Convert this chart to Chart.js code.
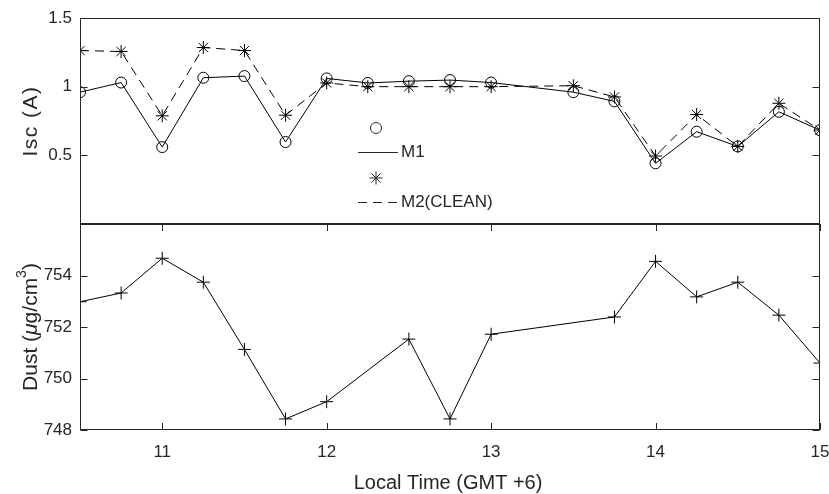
<!DOCTYPE html>
<html>
<head>
<meta charset="utf-8">
<script src="https://cdn.jsdelivr.net/npm/chart.js@4/dist/chart.umd.min.js"></script>
<style>
  html, body { margin: 0; padding: 0; background: #fff; }
</style>
</head>
<body>
<canvas id="myChart" width="829" height="494"></canvas>
<script>
// values
const times = [10.5, 10.75, 11, 11.25, 11.5, 11.75, 12, 12.25, 12.5, 12.75, 13, 13.5, 13.75, 14, 14.25, 14.5, 14.75, 15];
const m1 = [0.96, 1.03, 0.56, 1.065, 1.077, 0.597, 1.06, 1.027, 1.04, 1.048, 1.03, 0.96, 0.893, 0.442, 0.672, 0.565, 0.817, 0.683];
const m2 = [1.263, 1.256, 0.788, 1.285, 1.263, 0.792, 1.027, 1.0, 1.0, 1.0, 1.0, 1.007, 0.925, 0.495, 0.797, 0.565, 0.879, 0.683];
const dustTimes = [10.5, 10.75, 11, 11.25, 11.5, 11.75, 12, 12.5, 12.75, 13, 13.75, 14, 14.25, 14.5, 14.75, 15];
const dust = [752.98, 753.32, 754.67, 753.74, 751.13, 748.43, 749.1, 751.53, 748.43, 751.72, 752.39, 754.55, 753.17, 753.74, 752.46, 750.6];
const xTicks = [11, 12, 13, 14, 15];
const iscTicks = [0.5, 1, 1.5];
const dustTicks = [748, 750, 752, 754];

const FONT = "'Liberation Sans', Arial, sans-serif";
const INK = '#262626';

const ctx = document.getElementById('myChart');

const pts = (xs, ys) => xs.map((x, i) => ({ x: x, y: ys[i] }));
const setTicks = (list) => (scale) => { scale.ticks = list.map(v => ({ value: v })); };
const tickOpts = (pad) => ({ font: { family: FONT, size: 17 }, color: INK, padding: pad, callback: (v) => String(v) });
const noGrid = { display: false, drawTicks: false };
const noPad = (s) => { s.paddingLeft = 0; s.paddingRight = 0; s.paddingTop = 0; s.paddingBottom = 0; };

const drawMarker = (c, style, x, y, r) => {
    c.beginPath();
    if (style === 'circle') {
        c.arc(x, y, r, 0, Math.PI * 2);
    } else {
        const angles = style === 'star' ? [0, 45, 90, 135] : [0, 90];
        angles.forEach(a => {
            const dx = Math.cos(a * Math.PI / 180) * r, dy = Math.sin(a * Math.PI / 180) * r;
            c.moveTo(x - dx, y - dy);
            c.lineTo(x + dx, y + dy);
        });
    }
    c.stroke();
};

// box, inward ticks, axis titles and the legend
const framePlugin = {
    id: 'frame',
    afterDraw(chart) {
        const c = chart.ctx;
        const { x, yIsc, yDust } = chart.scales;
        const L = Math.round(x.left) + 0.5, R = Math.round(x.right) - 0.5;
        const tl = 7;
        c.save();
        c.strokeStyle = INK;
        c.lineWidth = 1;
        [yIsc, yDust].forEach(y => {
            const T = Math.round(y.top) + 0.5, B = Math.round(y.bottom) - 0.5;
            c.strokeRect(L, T, R - L, B - T);
            c.beginPath();
            y.ticks.forEach(t => {
                const py = Math.round(y.getPixelForValue(t.value)) + 0.5;
                c.moveTo(L, py); c.lineTo(L + tl, py);
                c.moveTo(R, py); c.lineTo(R - tl, py);
            });
            c.stroke();
        });
        c.beginPath();
        const T2 = Math.round(yDust.top), B2 = Math.round(yDust.bottom);
        x.ticks.forEach(t => {
            const px = Math.round(x.getPixelForValue(t.value)) + 0.5;
            c.moveTo(px, T2); c.lineTo(px, T2 + tl);
            c.moveTo(px, B2); c.lineTo(px, B2 - tl);
        });
        c.stroke();

        // axis titles
        c.fillStyle = INK;
        c.textBaseline = 'middle';
        c.textAlign = 'center';
        c.font = '20px ' + FONT;
        c.fillText('Local Time (GMT +6)', (x.left + x.right) / 2 - 2, 483);

        c.save();
        c.translate(31, (yIsc.top + yIsc.bottom) / 2);
        c.rotate(-Math.PI / 2);
        c.font = '21px ' + FONT;
        c.letterSpacing = '1.5px';
        c.fillText('Isc (A)', 0, 0);
        c.restore();

        const parts = [
            ['Dust (', '21px ' + FONT, 0],
            ['\u03bc', 'italic 21px ' + FONT, 0],
            ['g/cm', '21px ' + FONT, 0],
            ['3', '14px ' + FONT, -9],
            [')', '21px ' + FONT, 0]
        ];
        let total = 0;
        parts.forEach(p => { c.font = p[1]; total += c.measureText(p[0]).width; });
        c.save();
        c.translate(31, (yDust.top + yDust.bottom) / 2);
        c.rotate(-Math.PI / 2);
        c.textAlign = 'left';
        let pos = -total / 2;
        parts.forEach(p => {
            c.font = p[1];
            c.fillText(p[0], pos, p[2]);
            pos += c.measureText(p[0]).width;
        });
        c.restore();

        // legend
        const ds = chart.data.datasets;
        const lx = 376, ly = 128, step = 25;
        c.font = '17px ' + FONT;
        c.textAlign = 'left';
        [ds[0], ds[1]].forEach((d, i) => {
            const y0 = ly + i * 2 * step;
            c.setLineDash([]);
            drawMarker(c, d.pointStyle, lx, y0, d.pointRadius);
            const y1 = Math.round(y0 + step - 1) + 0.5;
            c.setLineDash(d.borderDash || []);
            c.beginPath();
            c.moveTo(358, y1); c.lineTo(398, y1);
            c.stroke();
            c.fillText(d.label, 401, y1);
        });
        c.restore();
    }
};

new Chart(ctx, {
    type: 'line',
    data: {
        datasets: [{
            label: 'M1',
            data: pts(times, m1),
            yAxisID: 'yIsc',
            borderColor: '#000',
            borderWidth: 1,
            pointStyle: 'circle',
            pointRadius: 5.5,
            pointBorderWidth: 1,
            pointBorderColor: '#000',
            pointBackgroundColor: 'rgba(0,0,0,0)'
        }, {
            label: 'M2(CLEAN)',
            data: pts(times, m2),
            yAxisID: 'yIsc',
            borderColor: '#000',
            borderWidth: 1,
            borderDash: [9, 6],
            pointStyle: 'star',
            pointRadius: 6.5,
            pointBorderWidth: 1,
            pointBorderColor: '#000',
            pointBackgroundColor: 'rgba(0,0,0,0)'
        }, {
            label: 'Dust',
            data: pts(dustTimes, dust),
            yAxisID: 'yDust',
            borderColor: '#000',
            borderWidth: 1,
            pointStyle: 'cross',
            pointRadius: 6.5,
            pointBorderWidth: 1,
            pointBorderColor: '#000'
        }]
    },
    options: {
        responsive: false,
        animation: false,
        devicePixelRatio: 1,
        layout: { padding: { top: 18, right: 9, left: 0, bottom: 0 } },
        plugins: { legend: { display: false }, tooltip: { enabled: false } },
        scales: {
            x: {
                type: 'linear',
                position: 'bottom',
                min: 10.5,
                max: 15,
                afterBuildTicks: setTicks(xTicks),
                afterFit: (s) => { s.height = 64; noPad(s); },
                grid: noGrid,
                border: { display: false },
                ticks: tickOpts(12)
            },
            yDust: {
                type: 'linear',
                position: 'left',
                stack: 'panels',
                stackWeight: 1,
                min: 748,
                max: 756,
                afterBuildTicks: setTicks(dustTicks),
                afterFit: (s) => { s.width = 80; noPad(s); },
                grid: noGrid,
                border: { display: false },
                ticks: tickOpts(8)
            },
            yIsc: {
                type: 'linear',
                position: 'left',
                stack: 'panels',
                stackWeight: 1,
                min: 0,
                max: 1.5,
                afterBuildTicks: setTicks(iscTicks),
                afterFit: (s) => { s.width = 80; noPad(s); },
                grid: noGrid,
                border: { display: false },
                ticks: tickOpts(8)
            }
        }
    },
    plugins: [framePlugin]
});
</script>
</body>
</html>
